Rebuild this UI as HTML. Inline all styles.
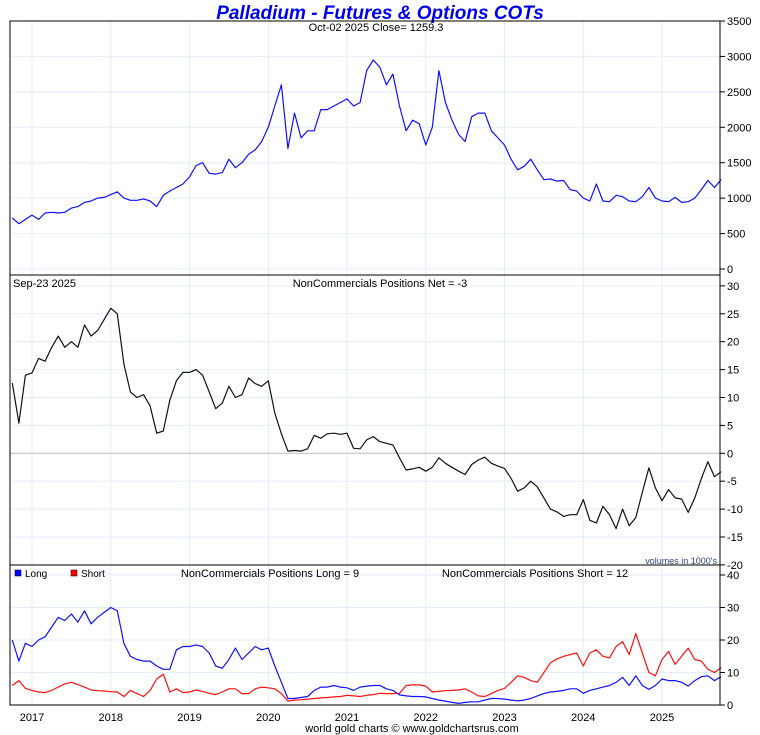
<!DOCTYPE html>
<html><head><meta charset="utf-8"><style>
body{margin:0;background:#fff;}
svg{display:block;font-family:"Liberation Sans",sans-serif;}
</style></head><body>
<svg id="c" width="760" height="735" xmlns="http://www.w3.org/2000/svg">
<text x="380" y="19" text-anchor="middle" font-size="19" font-weight="bold" font-style="italic" fill="#0000ee">Palladium - Futures &amp; Options COTs</text>
</svg>
<script>
const years=[2017,2018,2019,2020,2021,2022,2023,2024,2025];
const priceTicks=[0,500,1000,1500,2000,2500,3000,3500];
const netTicks=[30,25,20,15,10,5,0,-5,-10,-15,-20];
const posTicks=[0,10,20,30,40];
const price=[720,640,700,760,700,790,800,790,800,860,880,940,960,1000,1010,1050,1090,1000,970,970,990,960,880,1040,1100,1150,1200,1300,1460,1500,1350,1340,1360,1550,1430,1500,1620,1680,1800,2000,2300,2600,1700,2200,1850,1950,1950,2250,2250,2300,2350,2400,2300,2350,2800,2950,2850,2600,2750,2300,1950,2100,2050,1750,2000,2800,2350,2100,1900,1800,2150,2200,2200,1950,1850,1750,1550,1400,1450,1550,1400,1260,1270,1240,1250,1120,1100,1000,960,1200,960,950,1040,1020,960,950,1020,1150,1000,960,950,1010,940,950,1000,1120,1250,1150,1260];
const net=[12.6,5.4,14,14.4,17,16.5,19,21,19,20,19,23,21,22,24,26,25,16,11,10,10.5,8.5,3.6,4,9.5,13,14.5,14.5,15,14,11,8,9,12,10,10.5,13.5,12.5,12,13,7.2,3.5,0.4,0.5,0.4,0.8,3.2,2.7,3.5,3.6,3.4,3.6,0.9,0.8,2.4,3,2.1,1.8,1.5,-0.8,-3,-2.8,-2.5,-3.2,-2.5,-0.8,-1.8,-2.5,-3.2,-3.8,-2,-1.2,-0.7,-1.8,-2.3,-2.7,-4.5,-6.8,-6.2,-5,-6,-8,-10,-10.5,-11.3,-11,-11,-8.3,-12,-12.5,-9.5,-11,-13.5,-10,-13,-11.5,-7,-2.6,-6.2,-8.5,-6.5,-8,-8.2,-10.6,-8,-4.5,-1.5,-4.2,-3.3];
const longPos=[20,13.5,19,18,20,21,24,27,26,28,25.5,29,25,27,28.5,30,29,19,15,14,13.5,13.5,12,11,11,17,18,18,18.5,18,16,12,11.3,14,17.5,14,16,18,17,17.5,12,7,2,2,2.3,2.6,4.5,5.5,5.5,6,5.5,5.3,4.5,5.5,5.8,6,6,5,4.5,3.1,2.8,2.6,2.6,2.5,2,1.5,1.2,0.8,0.5,0.8,1,1,1.5,2,2,1.8,1.5,1.3,1.5,2,2.8,3.5,4,4.2,4.5,5,5,3.6,4.5,5,5.5,6,7,8.5,6,9,6,4.8,6,8,7.5,7.5,7,5.8,7.5,8.7,9,7.5,8.7];
const shortPos=[6,7.5,5.1,4.5,4,3.8,4.5,5.5,6.5,7,6.3,5.5,4.6,4.4,4.3,4.1,4,2.6,4.5,3.5,2.6,4.5,8,9.5,4,5,3.8,4,4.6,4.2,3.6,3.2,4,5,5,3.5,3.5,5,5.5,5.3,5,3.5,1.2,1.5,1.6,1.8,2,2.2,2.3,2.5,2.6,3,2.8,2.6,3,3.2,3.6,3.5,3.5,3.6,6,6.2,6.2,5.8,4,4.2,4.4,4.5,4.6,5,4,2.8,2.6,3.5,4.5,5.1,7,9,8.5,7.5,7,10,13,14.2,15,15.5,16,12,16,17,15,14.5,18,19.5,15.5,22,16,10,9,14,16.5,12.5,15,17.5,14,13.5,11,10,11.5];
const startT=2016.75, stepT=1/12;
const L=10,R=720;
function xT(t){return 32+(t-2017)*78.75;}
function xI(i){return xT(startT+i*stepT);}
function y1(v){return 269-v*248/3500;}
function y2(v){return 453.3-v*27.9/5;}
function y3(v){return 705-v*3.25;}
const svg=document.getElementById('c');
const NS='http://www.w3.org/2000/svg';
function mk(tag,attrs,txt){const e=document.createElementNS(NS,tag);for(const k in attrs)e.setAttribute(k,attrs[k]);if(txt!==undefined)e.textContent=txt;svg.appendChild(e);return e;}
const panels=[[21,275],[275,565],[565,705]];
// grids
panels.forEach(p=>{years.forEach(yr=>{const g=mk('line',{x1:xT(yr),x2:xT(yr),y1:p[0],y2:p[1],stroke:'#e2eef9','stroke-width':1});

});});
function hgrid(ticks,fy,lo,hi,zeroGray){ticks.forEach(v=>{const y=fy(v);if(y<lo-1||y>hi+1)return;
const g=mk('line',{x1:L,x2:R,y1:y,y2:y,stroke:(zeroGray&&v===0)?'#bbbbbb':'#e2eef9','stroke-width':1});


const tk=mk('line',{x1:R,x2:R+5,y1:y,y2:y,stroke:'#000','stroke-width':1});


const t=mk('text',{x:R+7,y:y+4,'font-size':11,fill:'#000'},String(v));

});}
hgrid(priceTicks,y1,21,275,false);
hgrid(netTicks,y2,275,566,true);
hgrid(posTicks,y3,565,705,false);
function line(arr,fy,color,name){const d=arr.map((v,i)=>(i?'L':'M')+xI(i).toFixed(1)+' '+fy(v).toFixed(1)).join(' ');
const p=mk('path',{d:d,fill:'none',stroke:color,'stroke-width':1.2,'stroke-linejoin':'round'});

}
line(price,y1,'#1010ff','price-line');
line(net,y2,'#111','net-positions-line');
line(shortPos,y3,'#ff1010','short-positions-line');
line(longPos,y3,'#1010ff','long-positions-line');
// frames
panels.forEach(p=>{const r=mk('rect',{x:L,y:p[0],width:R-L,height:p[1]-p[0],fill:'none',stroke:'#000','stroke-width':1});

});
years.forEach(yr=>{const t=mk('text',{x:xT(yr),y:721,'text-anchor':'middle','font-size':11,fill:'#000'},String(yr));

});
function txt(x,y,s,anchor,size,fill,name){const t=mk('text',{x:x,y:y,'text-anchor':anchor,'font-size':size,fill:fill},s);

return t;}
txt(376,31,'Oct-02  2025   Close= 1259.3','middle',11,'#000','price-subtitle').setAttribute('xml:space','preserve');
txt(13,287,'Sep-23  2025','start',11,'#000','net-date-label').setAttribute('xml:space','preserve');
txt(380,287,'NonCommercials Positions Net = -3','middle',11,'#000','net-panel-title');
txt(717,564,"volumes in 1000's",'end',9,'#334477','volumes-note');
txt(270,577,'NonCommercials Positions Long = 9','middle',11,'#000','long-panel-title');
txt(535,577,'NonCommercials Positions Short = 12','middle',11,'#000','short-panel-title');
txt(412,732,'world gold charts © www.goldchartsrus.com','middle',11,'#000','footer-credit');
const lb=mk('rect',{x:15,y:570,width:6,height:6,fill:'#0000ff',stroke:'#000','stroke-width':0.5});


txt(25,577,'Long','start',10,'#000','legend-long-label');
const rb=mk('rect',{x:71,y:570,width:6,height:6,fill:'#ff0000',stroke:'#000','stroke-width':0.5});


txt(81,577,'Short','start',10,'#000','legend-short-label');
</script>
</body></html>
